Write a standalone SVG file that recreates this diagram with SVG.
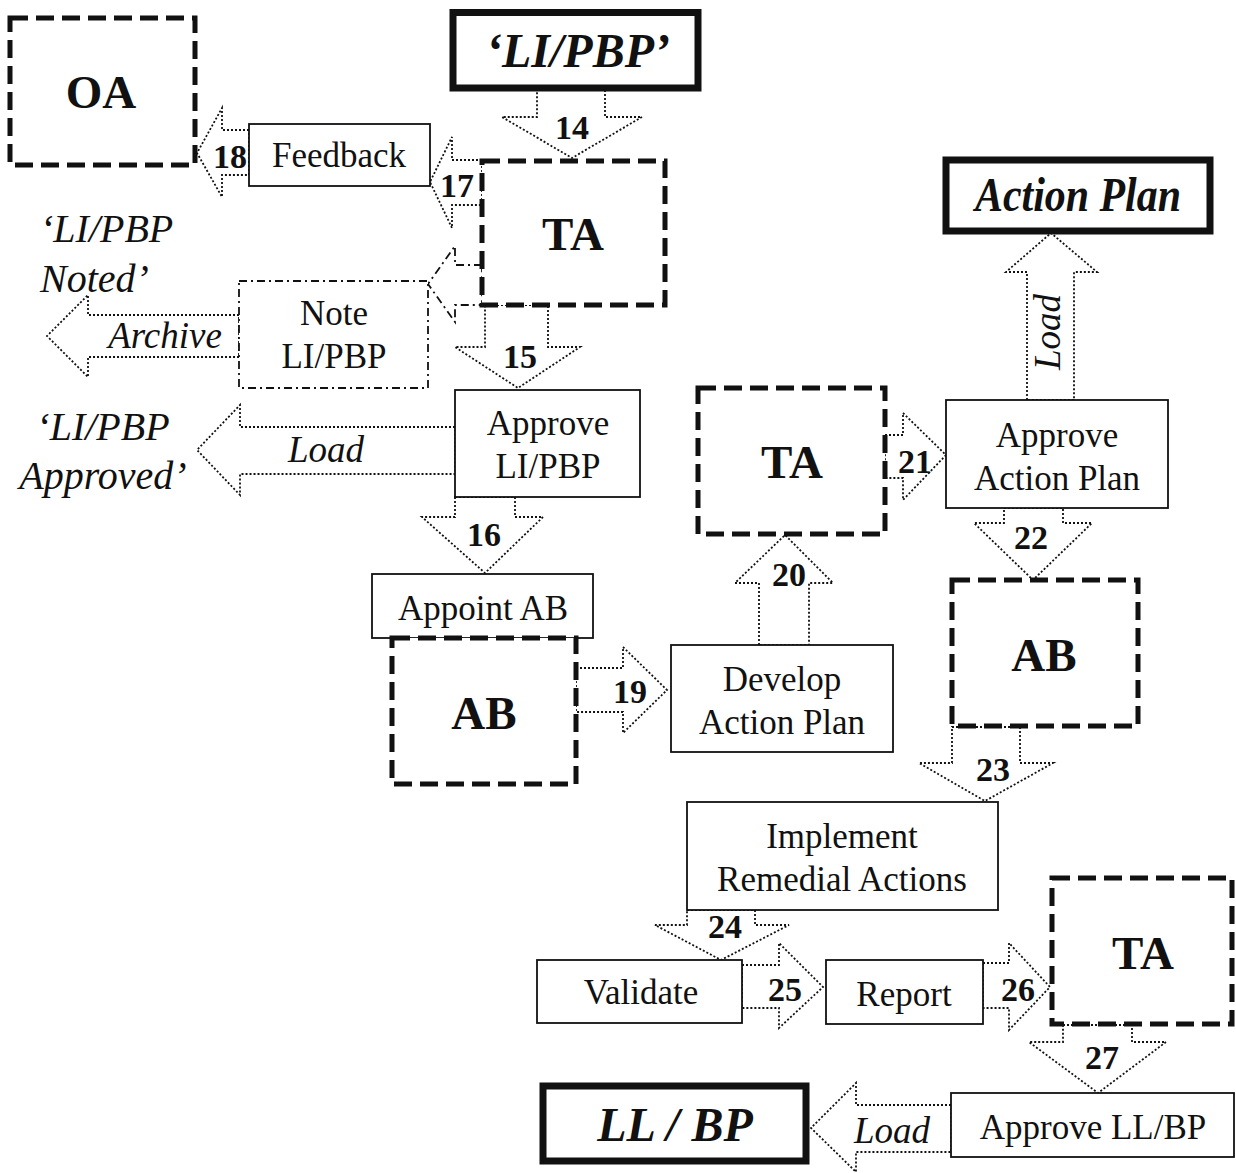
<svg xmlns="http://www.w3.org/2000/svg" width="1236" height="1173" viewBox="0 0 1236 1173">
<style>
  .bg { fill: #ffffff; }
  .arrow { fill: #ffffff; stroke: #111; stroke-width: 1.8; stroke-dasharray: 2 2; }
  .arrowdd { fill: #ffffff; stroke: #111; stroke-width: 1.8; stroke-dasharray: 8 4 2 4; }
  .dash { fill: #ffffff; stroke: #111; stroke-width: 5; stroke-dasharray: 18 8; }
  .thick { fill: #ffffff; stroke: #111; stroke-width: 7; }
  .thin { fill: #ffffff; stroke: #111; stroke-width: 1.8; }
  .dd { fill: #ffffff; stroke: #111; stroke-width: 1.8; stroke-dasharray: 8 4 2 4; }
  text { font-family: "Liberation Serif", "Times New Roman", serif; fill: #111; }
  .num { font-size: 34px; font-weight: bold; text-anchor: middle; }
  .lbl { font-size: 35px; text-anchor: middle; }
  .big { font-size: 47px; font-weight: bold; text-anchor: middle; }
  .bigi { font-size: 48px; font-weight: bold; font-style: italic; text-anchor: middle; }
  .it { font-size: 37px; font-style: italic; text-anchor: middle; }
  .itl { font-size: 40px; font-style: italic; }
</style>
<rect class="bg" x="0" y="0" width="1236" height="1173"/>

<g id="connectors">
  <polygon id="c14" class="arrow" points="537,90 605,90 605,117 642,117 572,158 502,117 537,117"/>
  <polygon id="c18" class="arrow" points="249,130 222,130 222,108 197,153 222,197 222,175 249,175"/>
  <polygon id="c17" class="arrow" points="482,160 452,160 452,137 430,182 452,228 452,205 482,205"/>
  <polygon id="cNote" class="arrowdd" points="482,265 455,265 455,246 428,284 455,322 455,305 482,305"/>
  <polygon id="cArchive" class="arrow" points="239,315 88,315 88,295 47,336 88,377 88,357 239,357"/>
  <polygon id="c15" class="arrow" points="485,305 548,305 548,347 580,347 518,388 455,347 485,347"/>
  <polygon id="cLoad1" class="arrow" points="455,427 240,427 240,405 197,450 240,495 240,474 455,474"/>
  <polygon id="c16" class="arrow" points="455,497 515,497 515,517 543,517 485,573 422,517 455,517"/>
  <polygon id="c19" class="arrow" points="576,668 623,668 623,647 667,690 623,733 623,712 576,712"/>
  <polygon id="c20" class="arrow" points="759,645 759,583 735,583 785,535 833,583 809,583 809,645"/>
  <polygon id="c21" class="arrow" points="885,435 903,435 903,413 946,455 903,500 903,478 885,478"/>
  <polygon id="cLoad2" class="arrow" points="1027,400 1027,272 1006,272 1051,233 1097,272 1074,272 1074,400"/>
  <polygon id="c22" class="arrow" points="1004,508 1063,508 1063,523 1092,523 1033,580 974,523 1004,523"/>
  <polygon id="c23" class="arrow" points="952,727 1020,727 1020,763 1053,763 985,801 919,763 952,763"/>
  <polygon id="c24" class="arrow" points="687,910 755,910 755,925 789,925 721,960 655,925 687,925"/>
  <polygon id="c25" class="arrow" points="742,965 779,965 779,943 823,987 779,1028 779,1008 742,1008"/>
  <polygon id="c26" class="arrow" points="983,963 1009,963 1009,943 1050,987 1009,1030 1009,1008 983,1008"/>
  <polygon id="c27" class="arrow" points="1063,1025 1132,1025 1132,1042 1166,1042 1098,1093 1029,1042 1063,1042"/>
  <polygon id="cLoad3" class="arrow" points="951,1105 856,1105 856,1083 811,1128 856,1172 856,1152 951,1152"/>
  <text class="num" x="572" y="139">14</text>
  <text class="num" x="230" y="168">18</text>
  <text class="num" x="457" y="197">17</text>
  <text class="it" x="165" y="348" font-size="36">Archive</text>
  <text class="num" x="520" y="368">15</text>
  <text class="it" x="326" y="462">Load</text>
  <text class="num" x="484" y="546">16</text>
  <text class="num" x="630" y="703">19</text>
  <text class="num" x="789" y="586">20</text>
  <text class="num" x="915" y="473">21</text>
  <text class="it" transform="translate(1060,332) rotate(-90)" x="0" y="0">Load</text>
  <text class="num" x="1031" y="549">22</text>
  <text class="num" x="993" y="781">23</text>
  <text class="num" x="725" y="938">24</text>
  <text class="num" x="785" y="1001">25</text>
  <text class="num" x="1018" y="1001">26</text>
  <text class="num" x="1102" y="1069">27</text>
  <text class="it" x="892" y="1143">Load</text>
</g>

<g id="n-OA"><rect class="dash" x="10" y="18" width="185" height="147"/><text class="big" x="101" y="108">OA</text></g>
<g id="n-LIPBP"><rect class="thick" x="453" y="12.5" width="245" height="75.5"/><text class="bigi" x="578" y="67">‘LI/PBP’</text></g>
<g id="n-TA1"><rect class="dash" x="482" y="161" width="183" height="144"/><text class="big" x="573" y="250">TA</text></g>
<g id="n-Feedback"><rect class="thin" x="249" y="124" width="181" height="62"/><text class="lbl" x="339" y="167">Feedback</text></g>
<g id="n-Noted"><text class="itl" x="40" y="242">‘LI/PBP</text><text class="itl" x="40" y="292">Noted’</text></g>
<g id="n-Note"><rect class="dd" x="239" y="281" width="189" height="107"/><text class="lbl" x="334" y="325">Note</text><text class="lbl" x="334" y="368">LI/PBP</text></g>
<g id="n-ApproveLIPBP"><rect class="thin" x="455" y="390" width="185" height="107"/><text class="lbl" x="548" y="435">Approve</text><text class="lbl" x="548" y="478">LI/PBP</text></g>
<g id="n-Approved"><text class="itl" x="103" y="440" text-anchor="middle">‘LI/PBP</text><text class="itl" x="103" y="489" text-anchor="middle">Approved’</text></g>
<g id="n-AppointAB"><rect class="thin" x="372" y="574" width="221" height="64"/><text class="lbl" x="483" y="620">Appoint AB</text></g>
<g id="n-AB1"><rect class="dash" x="392" y="638" width="184" height="146"/><text class="big" x="484" y="729">AB</text></g>
<g id="n-TA2"><rect class="dash" x="698" y="388" width="187" height="146"/><text class="big" x="792" y="478">TA</text></g>
<g id="n-ActionPlan"><rect class="thick" x="946" y="160" width="264" height="71"/><text class="bigi" x="1078" y="211" font-size="38" textLength="206" lengthAdjust="spacingAndGlyphs">Action Plan</text></g>
<g id="n-ApproveAP"><rect class="thin" x="946" y="400" width="222" height="108"/><text class="lbl" x="1057" y="447">Approve</text><text class="lbl" x="1057" y="490">Action Plan</text></g>
<g id="n-Develop"><rect class="thin" x="671" y="645" width="222" height="107"/><text class="lbl" x="782" y="691">Develop</text><text class="lbl" x="782" y="734">Action Plan</text></g>
<g id="n-AB2"><rect class="dash" x="952" y="580" width="186" height="146"/><text class="big" x="1044" y="671">AB</text></g>
<g id="n-Implement"><rect class="thin" x="687" y="802" width="311" height="108"/><text class="lbl" x="842" y="848">Implement</text><text class="lbl" x="842" y="891">Remedial Actions</text></g>
<g id="n-Validate"><rect class="thin" x="537" y="960" width="205" height="63"/><text class="lbl" x="641" y="1004">Validate</text></g>
<g id="n-Report"><rect class="thin" x="826" y="960" width="157" height="64"/><text class="lbl" x="904" y="1006">Report</text></g>
<g id="n-TA3"><rect class="dash" x="1052" y="878" width="180" height="146"/><text class="big" x="1143" y="969">TA</text></g>
<g id="n-ApproveLLBP"><rect class="thin" x="951" y="1093" width="283" height="64"/><text class="lbl" x="1093" y="1139">Approve LL/BP</text></g>
<g id="n-LLBP"><rect class="thick" x="543" y="1086" width="263" height="75"/><text class="bigi" x="675" y="1141">LL / BP</text></g>
</svg>
